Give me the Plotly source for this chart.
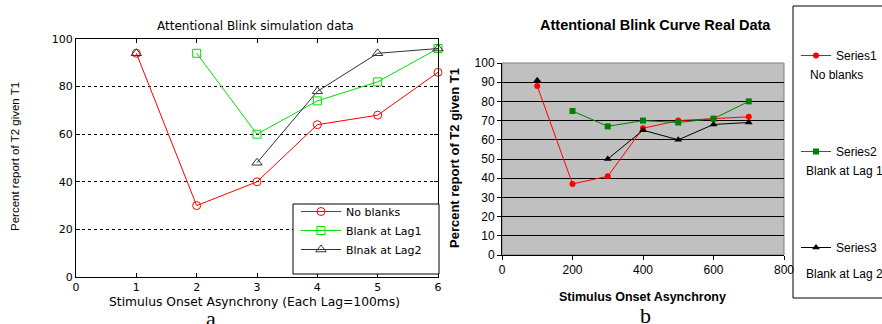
import plotly.graph_objects as go

W, H = 882, 324

# ---- Data: left (simulation) ----
lags = [1, 2, 3, 4, 5, 6]
no_blanks = [94, 30, 40, 64, 68, 86]
lag1_x = [2, 3, 4, 5, 6]
blank_lag1 = [94, 60, 74, 82, 96]
lag2_x = [1, 2, 3, 4, 5, 6]
blank_lag2 = [94, None, 48, 78, 94, 96]

# ---- Data: right (real) ----
soa1 = [100, 200, 300, 400, 500, 600, 700]
series1 = [88, 37, 41, 66, 70, 71, 72]
soa2 = [200, 300, 400, 500, 600, 700]
series2 = [75, 67, 70, 69, 71, 80]
soa3 = [100, 200, 300, 400, 500, 600, 700]
series3 = [91, None, 50, 65, 60, 68, 69]

left_names = ["No blanks", "Blank at Lag1", "Blnak at Lag2"]
right_names = ["Series1", "Series2", "Series3"]
right_sub = ["No blanks", "Blank at Lag 1", "Blank at Lag 2"]


def px(x):
    return x / W


def py(y):
    return 1 - y / H


fig = go.Figure()

LF = "DejaVu Sans"
RF = "Liberation Sans"

fig.add_trace(go.Scatter(x=lags, y=no_blanks, name=left_names[0], mode="lines+markers",
                         line=dict(color="#ff0000", width=1),
                         marker=dict(symbol="circle-open", size=8, color="#ff0000", line=dict(width=1)),
                         xaxis="x", yaxis="y", legend="legend", cliponaxis=False))
fig.add_trace(go.Scatter(x=lag1_x, y=blank_lag1, name=left_names[1], mode="lines+markers",
                         line=dict(color="#00e000", width=1),
                         marker=dict(symbol="square-open", size=8, color="#00e000", line=dict(width=1)),
                         xaxis="x", yaxis="y", legend="legend", cliponaxis=False))
fig.add_trace(go.Scatter(x=lag2_x, y=blank_lag2, name=left_names[2], mode="lines+markers",
                         line=dict(color="#333333", width=1),
                         marker=dict(symbol="triangle-up-open", size=9, color="#333333", line=dict(width=1)),
                         xaxis="x", yaxis="y", legend="legend", cliponaxis=False, connectgaps=False))

fig.add_trace(go.Scatter(x=soa1, y=series1, name=right_names[0], mode="lines+markers",
                         line=dict(color="#ff0000", width=1),
                         marker=dict(symbol="circle", size=6, color="#ff0000"),
                         xaxis="x2", yaxis="y2", legend="legend2", legendgroup="g1"))
fig.add_trace(go.Scatter(x=soa2, y=series2, name=right_names[1], mode="lines+markers",
                         line=dict(color="#008000", width=1),
                         marker=dict(symbol="square", size=6, color="#008000"),
                         xaxis="x2", yaxis="y2", legend="legend2", legendgroup="g2"))
fig.add_trace(go.Scatter(x=soa3, y=series3, name=right_names[2], mode="lines+markers",
                         line=dict(color="#000000", width=1),
                         marker=dict(symbol="triangle-up", size=7, color="#000000"),
                         xaxis="x2", yaxis="y2", legend="legend2", legendgroup="g3",
                         connectgaps=False))

shapes = [
    dict(type="rect", xref="x2 domain", yref="y2 domain", x0=0, x1=1, y0=0, y1=1,
         fillcolor="#c0c0c0", line=dict(color="#808080", width=1), layer="below"),
    dict(type="rect", xref="paper", yref="paper", x0=px(293), x1=px(439), y0=py(274), y1=py(204),
         fillcolor="white", line=dict(color="black", width=1), layer="above"),
    dict(type="rect", xref="paper", yref="paper", x0=px(793), x1=px(895), y0=py(298), y1=py(6),
         fillcolor="rgba(0,0,0,0)", line=dict(color="black", width=1), layer="above"),
]

ann = []


def add_text(text, x, y, size, family, bold=False, angle=0, xanchor="center"):
    ann.append(dict(text=("<b>%s</b>" % text) if bold else text, x=px(x), y=py(y),
                    xref="paper", yref="paper", showarrow=False, textangle=angle,
                    xanchor=xanchor, yanchor="middle",
                    font=dict(family=family, size=size, color="black")))


add_text("Attentional Blink simulation data", 255, 26, 12, LF)
add_text("Stimulus Onset Asynchrony (Each Lag=100ms)", 254, 302, 12.3, LF)
add_text("Percent report of T2 given T1", 15, 157, 11.5, RF, angle=-90)
add_text("a", 211, 318, 22, "Liberation Serif")

add_text("Attentional Blink Curve Real Data", 655, 25, 14.5, RF, bold=True)
add_text("Stimulus Onset Asynchrony", 642, 297, 12.5, RF, bold=True)
add_text("Percent report of T2 given T1", 455, 158, 13, RF, bold=True, angle=-90)
add_text("b", 645, 315, 22, "Liberation Serif")

add_text(right_sub[0], 808, 75, 12, RF, xanchor="left")
add_text(right_sub[1], 804, 171, 12, RF, xanchor="left")
add_text(right_sub[2], 804, 274, 12, RF, xanchor="left")

fig.update_layout(
    width=W, height=H, margin=dict(l=0, r=0, t=0, b=0, autoexpand=False),
    paper_bgcolor="white", plot_bgcolor="rgba(0,0,0,0)",
    shapes=shapes, annotations=ann, showlegend=True, hovermode=False,
    xaxis=dict(domain=[px(76), px(438)], range=[0, 6], dtick=1, showgrid=False, zeroline=False,
               showline=True, linecolor="black", linewidth=1, mirror="ticks",
               ticks="inside", ticklen=4, tickcolor="black",
               tickfont=dict(family=LF, size=11, color="black"), anchor="y"),
    yaxis=dict(domain=[py(277), py(39)], range=[0, 100], dtick=20, showgrid=True,
               gridcolor="black", griddash="3px,3px", gridwidth=1, zeroline=False,
               showline=True, linecolor="black", linewidth=1, mirror="ticks",
               ticks="inside", ticklen=4, tickcolor="black",
               tickfont=dict(family=LF, size=11, color="black"), anchor="x"),
    xaxis2=dict(domain=[px(502), px(784)], range=[0, 800], dtick=200, showgrid=False, zeroline=False,
                showline=True, linecolor="black", linewidth=1,
                ticks="outside", ticklen=4, tickcolor="black",
                tickfont=dict(family=RF, size=12, color="black"), anchor="y2"),
    yaxis2=dict(domain=[py(255), py(63)], range=[0, 100], dtick=10, showgrid=True,
                gridcolor="black", gridwidth=1, zeroline=False,
                showline=True, linecolor="black", linewidth=1,
                ticks="outside", ticklen=4, tickcolor="black",
                tickfont=dict(family=RF, size=12, color="black"), anchor="x2"),
    legend=dict(x=px(296), y=py(197), xanchor="left", yanchor="top",
                bgcolor="rgba(0,0,0,0)", borderwidth=0, itemwidth=40,
                font=dict(family=LF, size=11, color="black")),
    legend2=dict(x=px(796), y=py(41), xanchor="left", yanchor="top",
                 bgcolor="rgba(0,0,0,0)", borderwidth=0, tracegroupgap=77,
                 font=dict(family=RF, size=12, color="black")),
)

fig.write_html("out.html", config={"displayModeBar": False},
               post_script="document.body.style.margin='0';document.body.style.overflow='hidden';")
